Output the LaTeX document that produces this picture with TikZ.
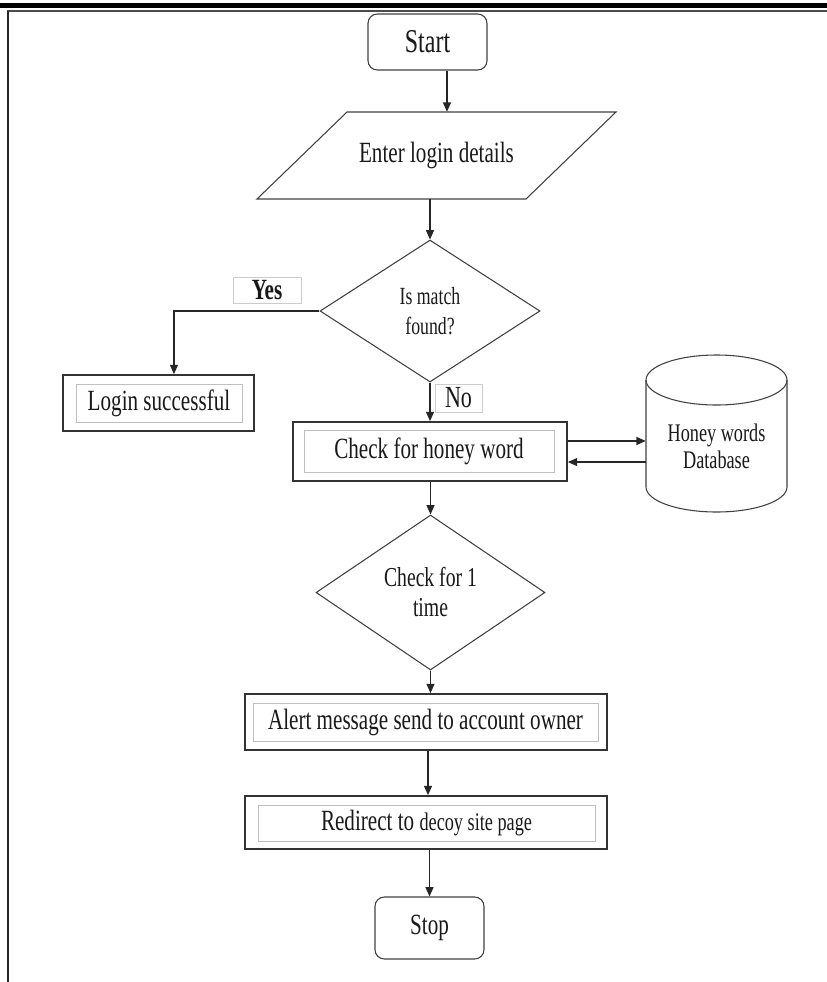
\documentclass[tikz,border=0pt]{standalone}
\usepackage{fontspec}
\setmainfont{Liberation Serif}[FakeStretch=0.72]
\usetikzlibrary{arrows.meta,shapes.geometric,calc}
\begin{document}
\begin{tikzpicture}[x=0.75pt,y=-0.75pt,
  ln/.style={draw=black!85, line width=0.9pt},
  arr/.style={ln, -{Triangle[length=7pt,width=6pt]}},
  shp/.style={draw=black!75, line width=0.8pt},
  outerbox/.style={draw=black!80, line width=1.3pt, inner sep=0pt, fill=white},
  innerbox/.style={draw=black!25, line width=0.6pt, inner sep=0pt},
  term/.style={shp, rounded corners=7pt, inner sep=0pt},
  lbl/.style={draw=black!20, line width=0.5pt, inner sep=0pt, fill=white},
  txt/.style={font=\fontsize{22}{26}\selectfont, text=black!90}
]
\useasboundingbox (0,0) rectangle (827,982);
% page frame
\fill[black] (0,3) rectangle (827,7.5);
\draw[black!70, line width=1.4pt] (7,11) -- (827,11);
\draw[black!85, line width=1.6pt] (8,10.5) -- (8,982);

% nodes
\node[term, font=\fontsize{25}{28}\selectfont, text=black!90, minimum width=89.25pt, minimum height=42pt] (start) at (427.5,42) {Start};

\draw[shp] (257,199) -- (347,112) -- (616,112) -- (526,199) -- cycle;
\node[inner sep=0pt, minimum width=201.75pt, minimum height=65.25pt, txt] (para) at (436.5,155.5) {Enter login details};

\node[diamond, shp, inner sep=0pt, minimum width=165pt, minimum height=106.5pt,
      align=center, font=\fontsize{18.5}{22}\selectfont, text=black!90] (d1) at (430,311) {Is match\\found?};

\node[outerbox, minimum width=143.25pt, minimum height=42pt] (login) at (158.5,403) {};
\node[innerbox, txt, minimum width=124.5pt, minimum height=28.5pt] (logini) at (159,403) {Login successful};

\node[outerbox, minimum width=205.5pt, minimum height=44.25pt] (check) at (430,451.5) {};
\node[innerbox, txt, minimum width=187.5pt, minimum height=31.5pt] (checki) at (429,451) {Check for honey word};

% database cylinder
\draw[shp, fill=white] (646,380) -- (646,487)
   arc[start angle=180, end angle=360, x radius=52.875pt, y radius=18.75pt] -- (787,380);
\draw[shp] (716.5,380) ellipse[x radius=52.875pt, y radius=18.75pt];
\node[inner sep=0pt, minimum width=105.75pt, minimum height=117.75pt] (db) at (716.5,433.5) {};
\node[align=center, font=\fontsize{19}{20.5}\selectfont, text=black!90] (dbtext) at (716.5,446) {Honey words\\Database};

\node[diamond, shp, inner sep=0pt, minimum width=171.75pt, minimum height=116.25pt,
      align=center, font=\fontsize{20.5}{22.5}\selectfont, text=black!90] (d2) at (430.5,592.5) {Check for 1\\time};

\node[outerbox, minimum width=271.5pt, minimum height=42pt] (alert) at (426,722) {};
\node[innerbox, txt, minimum width=258.75pt, minimum height=28.5pt] (alerti) at (425.5,722) {Alert message send to account owner};

\node[outerbox, minimum width=271.5pt, minimum height=39.75pt] (redir) at (426,822.5) {};
\node[innerbox, txt, minimum width=252.75pt, minimum height=27pt] (rediri) at (426.5,823) {Redirect to {\fontsize{19}{22}\selectfont decoy site page}};

\node[term, txt, minimum width=81.75pt, minimum height=46.5pt] (stop) at (429.5,928) {Stop};

% connectors
\draw[arr] ([xshift=14.6pt]start.south) -- ([xshift=14.6pt]start.south |- para.north);
\draw[arr] (d1.north |- para.south) -- (d1.north);
\draw[arr] (d1.west) -| ([xshift=11.6pt]login.north);
\draw[arr] (d1.south) -- (check.north);
\draw[arr] ([yshift=7.9pt]check.east) -- ([yshift=7.9pt]check.east -| db.west);
\draw[arr] ([yshift=-7.9pt]check.east -| db.west) -- ([yshift=-7.9pt]check.east);
\draw[arr] (d2.north |- check.south) -- (d2.north);
\draw[arr] (d2.south) -- (d2.south |- alert.north);
\draw[arr] ([xshift=1.5pt]alert.south) -- ([xshift=1.5pt]redir.north);
\draw[arr] (stop.north |- redir.south) -- (stop.north);

% branch labels
\node[lbl, minimum width=51pt, minimum height=19.5pt, font=\fontsize{22}{24}\selectfont\bfseries, text=black!90] (yes) at (267,290) {Yes};
\node[lbl, minimum width=35.25pt, minimum height=21pt, font=\fontsize{23}{24}\selectfont, text=black!90] (no) at (458.5,398) {No};
\end{tikzpicture}
\end{document}
